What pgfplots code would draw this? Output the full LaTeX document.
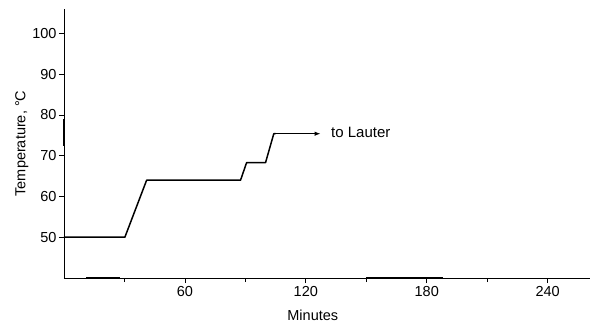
\documentclass[border=0pt]{standalone}
\usepackage{pgfplots}
\pgfplotsset{compat=1.18}
\usepackage{fontspec}
\setmainfont{Liberation Sans}
\usetikzlibrary{arrows.meta}
\begin{document}
\begin{tikzpicture}[x=1pt,y=1pt]
\begin{axis}[at={(0,0)}, anchor=south west, scale only axis,
  width=526pt, height=269pt,
  xmin=0, xmax=261, ymin=40, ymax=106,
  axis lines=left, axis line style={-, line width=0.9pt},
  xtick={60,120,180,240}, minor xtick={30,90,150,210},
  ytick={50,60,...,100},
  tick style={black, line width=0.8pt}, major tick length=5pt, minor tick length=4pt,
  tick align=outside,
  /pgf/number format/assume math mode=true,
  ticklabel style={font=\fontsize{14.5}{16}\selectfont},
  yticklabel style={xshift=1pt},
  xlabel={Minutes}, ylabel={Temperature, °C},
  label style={font=\fontsize{14.5}{16}\selectfont},
  x label style={at={(axis description cs:0.473,-0.1375)}, anchor=center},
  y label style={at={(axis description cs:-0.08,0.5)}, anchor=center, rotate=0},
  clip=false]
\addplot[line width=1.5pt, line join=round] coordinates {(0,50)(30.2,50)(41,64)(87.6,64)(90.6,68.3)(100,68.3)(104.1,75.4)(105,75.4)};
\addplot[line width=1pt, -{Latex[length=6pt,width=4.5pt]}] coordinates {(104.5,75.4)(127.3,75.4)};
\addplot[line width=2pt] coordinates {(0,72.5)(0,79)};
\addplot[line width=1.8pt] coordinates {(11,40)(28,40)};
\addplot[line width=1.8pt] coordinates {(150,40)(188,40)};
\node[anchor=west, inner sep=0pt, font=\fontsize{15}{16}\selectfont] at (axis cs:132.5,75.6) {to Lauter};
\end{axis}
\pgfresetboundingbox
\path (-64,-49) rectangle (526,278);
\end{tikzpicture}
\end{document}
